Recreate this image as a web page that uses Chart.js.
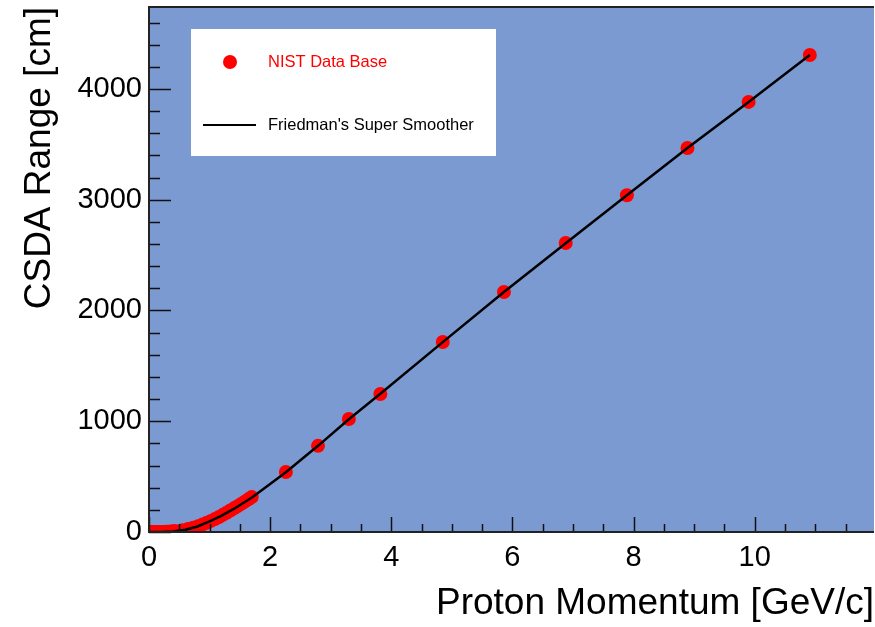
<!DOCTYPE html>
<html lang="en">
<head>
  <meta charset="UTF-8">
  <title>CSDA Range vs Proton Momentum</title>
  <script src="https://cdn.jsdelivr.net/npm/chart.js@4.4.1/dist/chart.umd.min.js"></script>
  <style>
    * { margin: 0; padding: 0; box-sizing: border-box; }
    body { background: #fff; width: 875px; height: 627px; overflow: hidden; }
    #wrap { width: 875px; height: 627px; }
  </style>
</head>
<body>
<div id="wrap"><canvas id="chart" width="875" height="627"></canvas></div>
<script>
// NIST data base points (momentum GeV/c, CSDA range cm)
const nistMomentum = [0.0014, 0.0043, 0.0097, 0.0137, 0.0194, 0.0307, 0.0433, 0.0613, 0.0751, 0.0970,
  0.1148, 0.1372, 0.1682, 0.1943, 0.2384, 0.2758, 0.3091, 0.3393, 0.3672, 0.3933,
  0.4180, 0.4446, 0.5513, 0.6445, 0.7291, 0.8081, 0.8828, 0.9543, 1.0232, 1.0901,
  1.1552, 1.2190, 1.2815, 1.3430, 1.4035, 1.4633, 1.5224, 1.5808, 1.6387, 1.6960,
  2.26, 2.79, 3.30, 3.82, 4.85, 5.86, 6.88, 7.89, 8.89, 9.90, 10.91];
const nistRange = [0, 0, 0, 0, 0, 0, 0.0025, 0.0075, 0.015, 0.036,
  0.064, 0.123, 0.254, 0.426, 0.885, 1.49, 2.22, 3.07, 4.08, 5.18,
  6.40, 7.72, 15.8, 26.0, 37.9, 51.9, 66.8, 83.1, 100.2, 117.8,
  136.1, 154.9, 174.1, 193.7, 213.5, 233.6, 253.8, 274.2, 294.7, 315.3,
  542, 778, 1020, 1246, 1716, 2167, 2609, 3040, 3467, 3883, 4307];

// Friedman's super smoother curve
const smoothMomentum = [0, 0.2, 0.4, 0.6, 0.8, 1.0, 1.2, 1.4, 1.7, 2.26, 2.79, 3.30, 3.82, 4.85, 5.86, 6.88, 7.89, 8.89, 9.90, 10.91];
const smoothRange = [0, 0.5, 5, 20, 50, 95, 148, 208, 312, 540, 778, 1018, 1248, 1714, 2167, 2607, 3040, 3467, 3883, 4307];

// axis ticks
const xTicks = [0, 2, 4, 6, 8, 10];
const yTicks = [0, 1000, 2000, 3000, 4000];
const X_MIN = 0, X_MAX = 11.97, X_MINOR = 0.5;
const Y_MIN = 0, Y_MAX = 4740, Y_MINOR = 200;

const FONT = "'Liberation Sans', Arial, Helvetica, sans-serif";
const PLOT_BG = 'rgb(124, 154, 210)';

const toXY = (xs, ys) => xs.map((x, i) => ({ x, y: ys[i] }));

// no extra label padding, the frame is fixed
function fixBox(s) {
  s.paddingTop = 0;
  s.paddingBottom = 0;
  s.paddingLeft = 0;
  s.paddingRight = 0;
}

// plot area background + frame + inward ticks (ROOT style)
const frameAndTicks = {
  id: 'frameAndTicks',
  beforeDatasetsDraw(chart) {
    const { ctx, chartArea: a } = chart;
    ctx.save();
    ctx.fillStyle = PLOT_BG;
    ctx.fillRect(a.left, a.top, a.right - a.left, a.bottom - a.top);
    ctx.restore();
  },
  afterDatasetsDraw(chart) {
    const { ctx, chartArea: a, scales } = chart;
    const xs = scales.x, ys = scales.y;
    ctx.save();
    ctx.strokeStyle = '#111';
    ctx.lineWidth = 1.5;
    ctx.beginPath();
    // x ticks
    for (let v = X_MIN; v <= X_MAX + 1e-9; v += X_MINOR) {
      const px = Math.round(xs.getPixelForValue(v)) + 0.5;
      const major = Math.abs(v / 2 - Math.round(v / 2)) < 1e-6;
      ctx.moveTo(px, a.bottom);
      ctx.lineTo(px, a.bottom - (major ? 15 : 8));
    }
    // y ticks
    for (let v = Y_MIN; v <= Y_MAX + 1e-9; v += Y_MINOR) {
      const py = Math.round(ys.getPixelForValue(v)) + 0.5;
      const major = v % 1000 === 0;
      ctx.moveTo(a.left, py);
      ctx.lineTo(a.left + (major ? 22 : 11), py);
    }
    ctx.stroke();
    // frame
    ctx.strokeStyle = '#222';
    ctx.lineWidth = 2;
    ctx.beginPath();
    ctx.moveTo(a.right, a.bottom);
    ctx.lineTo(a.left, a.bottom);
    ctx.lineTo(a.left, a.top);
    ctx.lineTo(a.right, a.top);
    ctx.stroke();
    ctx.restore();
  }
};

// legend box inside plot
const boxLegend = {
  id: 'boxLegend',
  afterDraw(chart) {
    const { ctx } = chart;
    ctx.save();
    ctx.fillStyle = '#fff';
    ctx.fillRect(191, 29, 305, 127);
    ctx.fillStyle = '#ff0000';
    ctx.beginPath();
    ctx.arc(230, 62, 7, 0, Math.PI * 2);
    ctx.fill();
    ctx.font = '16.5px ' + FONT;
    ctx.textBaseline = 'middle';
    ctx.fillText('NIST Data Base', 268, 62);
    ctx.strokeStyle = '#000';
    ctx.lineWidth = 2;
    ctx.beginPath();
    ctx.moveTo(203, 125);
    ctx.lineTo(256, 125);
    ctx.stroke();
    ctx.fillStyle = '#000';
    ctx.fillText("Friedman's Super Smoother", 268, 125);
    ctx.restore();
  }
};

new Chart(document.getElementById('chart'), {
  type: 'scatter',
  data: {
    datasets: [
      {
        label: "Friedman's Super Smoother",
        data: toXY(smoothMomentum, smoothRange),
        showLine: true,
        borderColor: '#000',
        borderWidth: 2.5,
        pointRadius: 0,
        tension: 0,
      },
      {
        label: 'NIST Data Base',
        data: toXY(nistMomentum, nistRange),
        backgroundColor: '#ff0000',
        borderWidth: 0,
        pointRadius: 7,
      },
    ],
  },
  options: {
    responsive: false,
    animation: false,
    layout: { autoPadding: false, padding: { top: 7, right: 1, left: 0, bottom: 0 } },
    plugins: {
      legend: { display: false },
      tooltip: { enabled: false },
    },
    scales: {
      x: {
        type: 'linear',
        min: X_MIN,
        max: X_MAX,
        grid: { display: false, drawTicks: false },
        border: { display: false },
        afterBuildTicks: s => { s.ticks = xTicks.map(v => ({ value: v })); },
        afterFit: s => { s.height = 95; fixBox(s); },
        ticks: {
          padding: 9,
          color: '#000',
          font: { family: FONT, size: 29 },
          maxRotation: 0,
          callback: v => String(v),
        },
        title: {
          display: true,
          text: 'Proton Momentum [GeV/c]',
          align: 'end',
          color: '#000',
          font: { family: FONT, size: 37 },
          padding: { top: 0, bottom: 1 },
        },
      },
      y: {
        type: 'linear',
        min: Y_MIN,
        max: Y_MAX,
        grid: { display: false, drawTicks: false },
        border: { display: false },
        afterBuildTicks: s => { s.ticks = yTicks.map(v => ({ value: v })); },
        afterFit: s => { s.width = 149; fixBox(s); },
        ticks: {
          padding: 7,
          color: '#000',
          font: { family: FONT, size: 29 },
          callback: v => String(v),
        },
        title: {
          display: true,
          text: 'CSDA Range [cm]',
          align: 'end',
          color: '#000',
          font: { family: FONT, size: 37 },
          padding: { top: 18, bottom: 0 },
        },
      },
    },
  },
  plugins: [frameAndTicks, boxLegend],
});
</script>
</body>
</html>
